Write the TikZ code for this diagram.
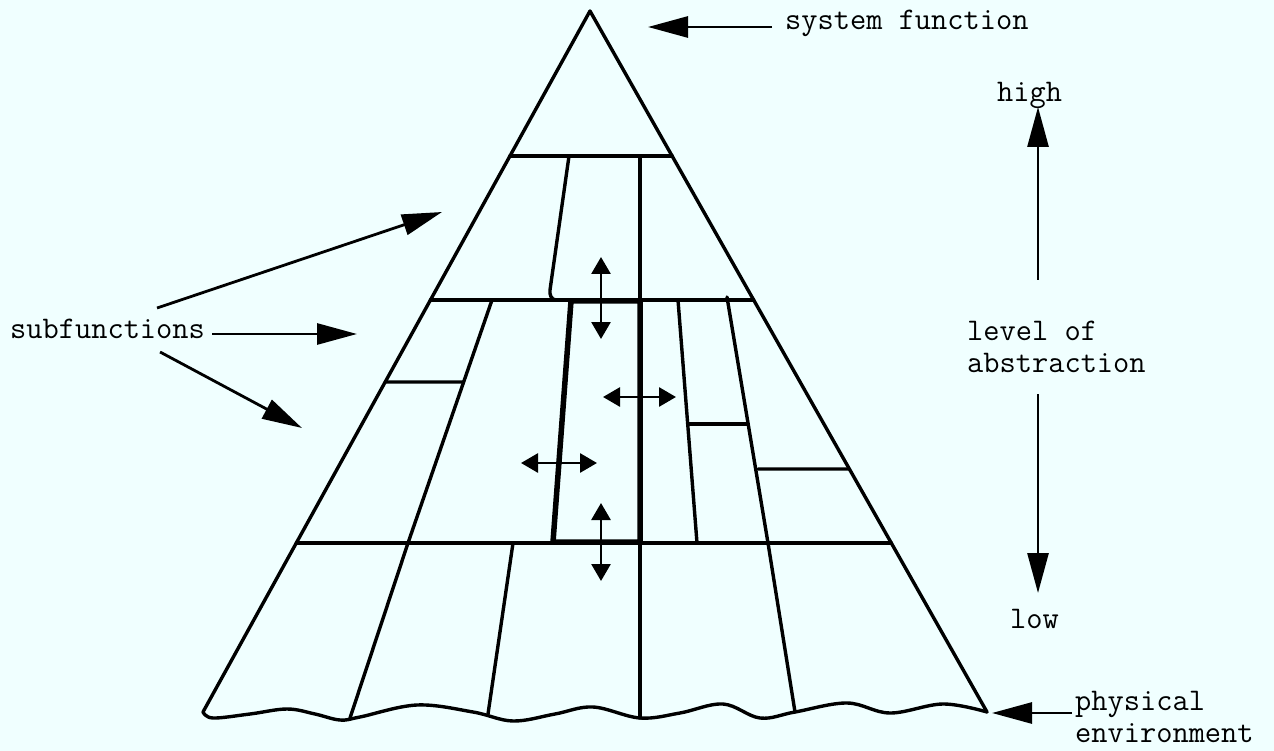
\documentclass[tikz,border=0pt]{standalone}
\usepackage{fontspec}
\usetikzlibrary{arrows.meta,calc}
\definecolor{paper}{RGB}{240,255,255}

\begin{document}
\begin{tikzpicture}[x=1pt,y=-1pt,
lbl/.style={font=\ttfamily\fontsize{31.5}{32}\selectfont\addfontfeatures{FakeBold=1.2},inner sep=0pt,align=left},
edge/.style={line width=3.4pt,line join=round,line cap=round},
wall/.style={line width=5.5pt,line join=round},
arr/.style={-{Triangle[length=40pt,width=21pt]},line width=2.8pt},
dbl/.style={{Triangle[length=17pt,width=19pt]}-{Triangle[length=17pt,width=19pt]},line width=2.8pt}]
\fill[paper] (0,0) rectangle (1274,751);
\useasboundingbox (0,0) rectangle (1274,751);
\coordinate (apex) at (590,11); \coordinate (bl) at (203,712); \coordinate (br) at (987,712);
\draw[edge] (bl) -- (apex) -- (br);
\draw[edge] plot[smooth,tension=0.6] coordinates {(203,712) (213,718) (250,714) (287,709) (315,714) (340,720) (360,717) (417,705) (473,712) (513,721) (555,714) (593,707) (640,718) (680,713) (723,704) (760,718) (795,712) (847,703) (890,713) (943,704) (987,712)};
\foreach \t in {0.207,0.4123,0.7589} \draw[edge] ($(apex)!\t!(bl)$) -- ($(apex)!\t!(br)$);
\draw[edge] (569,156) -- (550,290) to[out=-100,in=180] (556,300); \draw[edge] (640,156) -- (640,718);
\draw[edge] (492,300) -- (408,543) -- (350,718); \draw[edge] ($(apex)!0.5292!(bl)$) -- (463,382);
\draw[edge] (678,300) -- (697,543); \draw[edge] (688,424) -- (748,424);
\draw[edge] (727,297) -- (768,543) -- (795,712); \draw[edge] (758,469) -- ($(apex)!0.6534!(br)$);
\draw[edge] (513,543) -- (488,714);
\draw[wall] (571,301) -- (640,301) -- (640,542) -- (553,542) -- cycle;
\foreach \a/\b in {{601,257}/{601,339},{603,397}/{676,397},{521,463}/{597,463},{601,503}/{601,581}} \draw[dbl] (\a) -- (\b);
\node[lbl,anchor=base west] (sysfn) at (785,30) {system function};
\node[lbl,anchor=base west] (subfn) at (10,338) {subfunctions};
\node[lbl,anchor=base west] (high) at (997,102) {high};
\node[lbl,anchor=north west] (level) at (967,321) {level of\\abstraction};
\node[lbl,anchor=base west] (low) at (1010,628) {low};
\node[lbl,anchor=north west] (physenv) at (1075,691) {physical\\environment};
\coordinate (fntip) at (648,27); \coordinate (uptip) at (442,212); \coordinate (midtip) at (357,334); \coordinate (lowtip) at (302,428);
\coordinate (hightip) at (1038,107); \coordinate (lowend) at (1038,593); \coordinate (envtip) at (992,713);
\draw[arr] ($(fntip -| sysfn.west)+(-13,0)$) -- (fntip);
\draw[arr] ([shift={(-48pt,30pt)}]subfn.base east) -- (uptip); \draw[arr] ($(midtip -| subfn.east)+(7,0)$) -- (midtip); \draw[arr] ([shift={(-45pt,-14pt)}]subfn.base east) -- (lowtip);
\draw[arr] ($(level.north -| hightip)+(0,-41)$) -- (hightip); \draw[arr] ($(level.south -| lowend)+(0,21)$) -- (lowend);
\draw[arr] ($(envtip -| physenv.west)+(-3,0)$) -- (envtip);
\end{tikzpicture}
\end{document}
